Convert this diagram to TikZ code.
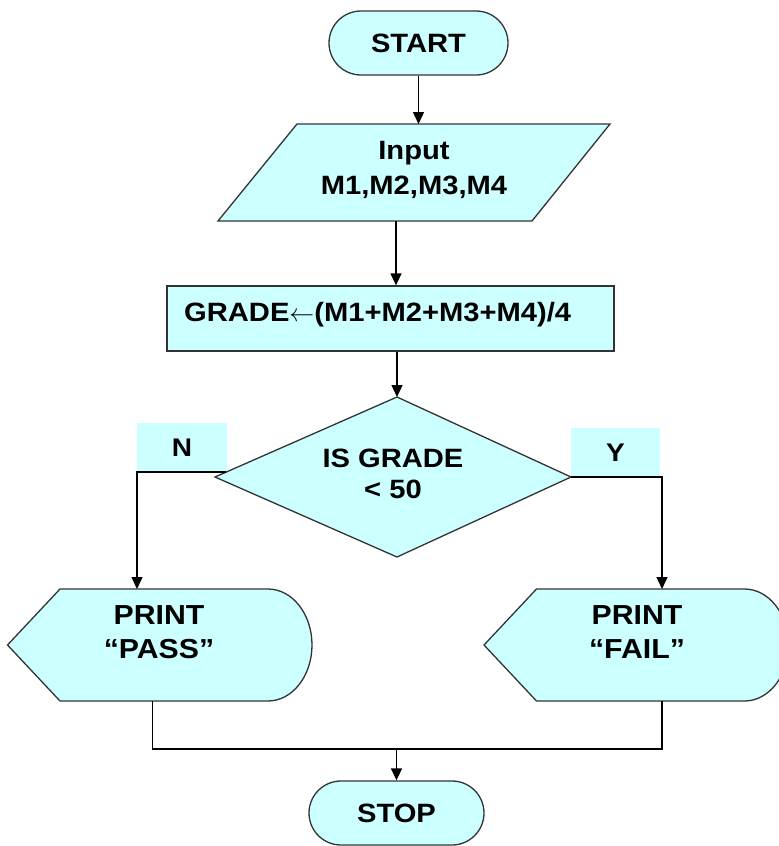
\documentclass[tikz,border=0pt]{standalone}
\usepackage{fontspec}
\setmainfont{Liberation Sans}[FakeStretch=1.1]
\usetikzlibrary{arrows.meta,calc}
\definecolor{boxfill}{HTML}{CCFFFF}
\definecolor{boxline}{HTML}{333333}
\begin{document}
\begin{tikzpicture}[x=1pt,y=-1pt,
  shapeline/.style={draw=boxline, line width=1.3pt, fill=boxfill},
  term/.style={shapeline, rounded corners=32pt, minimum width=175pt, minimum height=64pt, inner sep=0pt, font=\bfseries\fontsize{26.5}{31}\selectfont},
  txt/.style={inner sep=0pt, align=center, font=\bfseries\fontsize{26.5}{31}\selectfont},
  bigtxt/.style={txt, font=\bfseries\fontsize{27.5}{34}\selectfont},
  conn/.style={draw=black, line width=1.4pt},
  arr/.style={conn, -{Triangle[length=12pt,width=11pt]}},
  lab/.style={fill=boxfill, inner sep=0pt, font=\bfseries\fontsize{25.5}{29}\selectfont}]
\useasboundingbox (0,0) rectangle (779,846);
\clip (0,0) rectangle (779,846);
\fill[white] (0,0) rectangle (779,846);

% START
\node[term, minimum width=179pt] (start) at (418.5,43) {START};

% Input parallelogram
\coordinate (inTL) at (297,124);
\coordinate (inTR) at (610,124);
\coordinate (inBR) at (532,221);
\coordinate (inBL) at (218,221);
\draw[shapeline] (inTL) -- (inTR) -- (inBR) -- (inBL) -- cycle;
\node[txt, font=\bfseries\fontsize{26.5}{35}\selectfont] (input) at (414,170) {Input\\M1,M2,M3,M4};
\coordinate (inOut) at (396,221);

% Grade process
\node[shapeline, minimum width=447pt, minimum height=65pt, inner sep=0pt] (grade) at (390.5,318.5) {};
\node[txt, anchor=west] (gradetxt) at (184,315) {GRADE$\leftarrow$(M1+M2+M3+M4)/4};

% Decision
\coordinate (dT) at (397,397);
\coordinate (dL) at (215,477);
\coordinate (dR) at (571,477);
\coordinate (dB) at (397,557);
\node[lab, minimum width=90pt, minimum height=49pt] (nlab) at (182,447.5) {N};
\node[lab, minimum width=89pt, minimum height=49pt] (ylab) at (615.5,452.5) {Y};
\draw[shapeline] (dT) -- (dR) -- (dB) -- (dL) -- cycle;
\node[txt] (cond) at (393,474) {IS GRADE\\< 50};

% PRINT PASS
\draw[shapeline] (7.5,645) -- (60,589) -- (268,589) arc[start angle=-90, end angle=90, x radius=44, y radius=56] -- (60,701) -- cycle;
\node[bigtxt] (passtxt) at (159,632) {PRINT\\“PASS”};
\coordinate (pTop) at (137,589);
\coordinate (pBot) at (152.5,701);

% PRINT FAIL
\draw[shapeline] (484,645) -- (536.5,589) -- (744.5,589) arc[start angle=-90, end angle=90, x radius=44, y radius=56] -- (536.5,701) -- cycle;
\node[bigtxt] (failtxt) at (637,632) {PRINT\\“FAIL”};
\coordinate (fTop) at (662,589);
\coordinate (fBot) at (662,701);

% STOP
\node[term] (stop) at (396.5,813) {STOP};
\coordinate (join) at (396.5,749);

% connectors
\draw[arr] (start.south) -- (start.south |- inTL);
\draw[arr] (inOut) -- (inOut |- grade.north);
\draw[arr] (grade.south -| dT) -- (dT);
\draw[arr] ($(dL)!0.0625!(dT)$) -| (pTop);
\draw[arr] (dR) -| (fTop);
\draw[conn] (pBot) |- (join) -| (fBot);
\draw[arr] (join) -- (stop.north);
\end{tikzpicture}
\end{document}
